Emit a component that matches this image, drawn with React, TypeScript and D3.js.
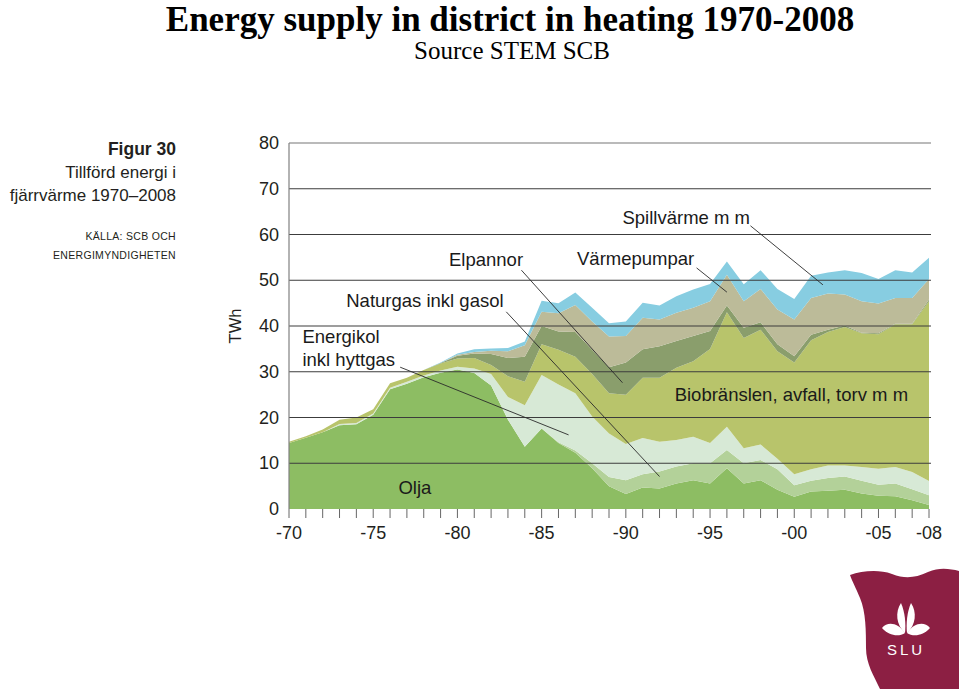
import React from "react";
import * as d3 from "d3";

// ---------- data (TWh), 1970–2008 ----------
const years = [
  1970, 1971, 1972, 1973, 1974, 1975, 1976, 1977, 1978, 1979,
  1980, 1981, 1982, 1983, 1984, 1985, 1986, 1987, 1988, 1989,
  1990, 1991, 1992, 1993, 1994, 1995, 1996, 1997, 1998, 1999,
  2000, 2001, 2002, 2003, 2004, 2005, 2006, 2007, 2008,
];

const olja = [
  14.4, 15.6, 16.8, 18.3, 18.5, 20.6, 26.2, 27.4, 28.8, 29.8,
  30.5, 29.7, 27.0, 19.5, 13.6, 17.6, 14.4, 12.3, 8.9, 5.0,
  3.3, 4.7, 4.5, 5.6, 6.3, 5.6, 8.9, 5.6, 6.3, 4.2,
  2.7, 3.8, 4.0, 4.2, 3.4, 2.9, 2.8, 1.9, 0.9,
];
const naturgas = [
  0, 0, 0, 0, 0, 0, 0, 0, 0, 0,
  0, 0, 0, 0, 0, 0, 0.2, 0.5, 1.1, 2.0,
  3.0, 2.9, 3.7, 3.7, 3.7, 4.4, 4.0, 4.4, 4.4, 4.5,
  2.5, 2.4, 2.8, 2.9, 2.8, 2.4, 2.8, 2.4, 2.1,
];
const energikol = [
  0, 0, 0, 0.3, 0.3, 0.3, 0.3, 0.4, 0.4, 0.5,
  0.6, 1.0, 2.5, 5.0, 9.1, 11.7, 12.6, 12.5, 10.2, 9.5,
  7.9, 7.9, 6.5, 5.8, 5.8, 4.4, 5.1, 3.3, 3.4, 2.3,
  2.4, 2.5, 2.7, 2.4, 3.0, 3.5, 3.6, 3.8, 3.1,
];
const biobranslen = [
  0.3, 0.3, 0.6, 0.9, 1.2, 0.9, 1.0, 0.9, 1.2, 1.5,
  1.8, 2.3, 2.0, 4.5, 5.1, 6.7, 7.6, 8.0, 9.3, 8.8,
  10.8, 13.2, 14.0, 15.8, 16.5, 20.6, 25.0, 24.1, 25.1, 23.5,
  24.4, 28.2, 29.2, 30.3, 29.2, 29.4, 31.2, 32.3, 39.3,
];
const elpannor = [
  0, 0, 0, 0, 0, 0, 0, 0, 0, 0.1,
  0.6, 1.0, 2.4, 4.0, 5.5, 4.0, 4.0, 5.4, 5.3, 5.7,
  7.0, 6.2, 6.9, 5.8, 5.5, 3.9, 1.5, 2.2, 1.6, 1.5,
  1.4, 1.2, 0.5, 0.3, 0.1, 0.2, 0.1, 0.1, 0.4,
];
const varmepumpar = [
  0, 0, 0, 0, 0, 0, 0, 0, 0, 0,
  0.2, 0.3, 0.7, 1.5, 2.5, 3.1, 4.0, 5.9, 6.2, 6.7,
  5.8, 6.9, 5.8, 6.2, 6.2, 6.5, 6.7, 5.8, 7.3, 7.6,
  8.0, 8.0, 7.9, 6.8, 6.9, 6.5, 5.6, 5.6, 4.5,
];
const spillvarme = [
  0, 0, 0, 0, 0, 0, 0, 0, 0, 0.1,
  0.3, 0.6, 0.5, 0.7, 0.8, 2.4, 2.2, 2.7, 3.0, 2.9,
  3.2, 3.3, 3.1, 3.6, 4.0, 3.8, 2.9, 3.7, 4.1, 4.5,
  4.5, 4.9, 4.6, 5.3, 6.2, 5.4, 6.1, 5.6, 4.6,
];

const seriesKeys = ["olja", "naturgas", "energikol", "bio", "elpannor", "varmepumpar", "spillvarme"];
const seriesColors = ["#8dbd63", "#b3d199", "#d7e9d6", "#b8c46b", "#8a9e6c", "#bcbb99", "#87cde1"];

const yTicks = [0, 10, 20, 30, 40, 50, 60, 70, 80];
const xTickYears = [1970, 1975, 1980, 1985, 1990, 1995, 2000, 2005, 2008];
const xTickLabels = ["-70", "-75", "-80", "-85", "-90", "-95", "-00", "-05", "-08"];

// annotation texts with anchor positions in data space (year, TWh)
const labels = [
  { text: "Spillvärme m m", year: 1989.8, value: 62.3 },
  { text: "Värmepumpar", year: 1987.1, value: 53.3 },
  { text: "Elpannor", year: 1979.5, value: 53.1 },
  { text: "Naturgas inkl gasol", year: 1973.4, value: 44.1 },
  { text: "Energikol", year: 1970.8, value: 36.3 },
  { text: "inkl hyttgas", year: 1970.8, value: 31.2 },
  { text: "Biobränslen, avfall, torv m m", year: 1992.9, value: 23.6 },
  { text: "Olja", year: 1976.5, value: 3.3 },
];
const leaders = [
  { y0: 1997.4, v0: 61.9, y1: 2001.7, v1: 49.0 },
  { y0: 1994.2, v0: 52.7, y1: 1996.0, v1: 47.4 },
  { y0: 1983.8, v0: 52.2, y1: 1989.8, v1: 27.6 },
  { y0: 1982.9, v0: 43.1, y1: 1992.0, v1: 7.1 },
  { y0: 1976.6, v0: 31.0, y1: 1986.6, v1: 16.2 },
];

const SANS = "'Liberation Sans', Arial, Helvetica, sans-serif";
const SERIF = "'Liberation Serif', 'Times New Roman', serif";

export default function App() {
  const x = d3.scaleLinear().domain([1970, 2008]).range([289, 929]);
  const y = d3.scaleLinear().domain([0, 80]).range([509, 143]);

  const table = years.map((yr, i) => ({
    year: yr,
    olja: olja[i],
    naturgas: naturgas[i],
    energikol: energikol[i],
    bio: biobranslen[i],
    elpannor: elpannor[i],
    varmepumpar: varmepumpar[i],
    spillvarme: spillvarme[i],
  }));
  const stacked = d3.stack<any>().keys(seriesKeys)(table);
  const area = d3
    .area<any>()
    .x((d) => x(d.data.year))
    .y0((d) => y(d[0]))
    .y1((d) => y(d[1]));

  return (
    <svg
      width={959}
      height={689}
      style={{ position: "absolute", left: 0, top: 0, background: "#fff" }}
    >
      {/* page title */}
      <text x={510} y={31} textAnchor="middle" fontFamily={SERIF} fontWeight="bold" fontSize={35} fill="#000">
        Energy supply in district in heating 1970-2008
      </text>
      <text x={512} y={59} textAnchor="middle" fontFamily={SERIF} fontSize={25} fill="#000">
        Source STEM SCB
      </text>

      {/* figure caption */}
      <g fontFamily={SANS} fill="#231f20" textAnchor="end">
        <text x={176} y={155} fontWeight="bold" fontSize={17.5}>Figur 30</text>
        <text x={176} y={178} fontSize={17}>Tillförd energi i</text>
        <text x={176} y={201} fontSize={17}>fjärrvärme 1970–2008</text>
        <text x={176} y={240} fontSize={10.5} letterSpacing={0.3}>KÄLLA: SCB OCH</text>
        <text x={176} y={259} fontSize={10.5} letterSpacing={0.3}>ENERGIMYNDIGHETEN</text>
      </g>

      {/* stacked areas */}
      {stacked.map((s, i) => (
        <path key={seriesKeys[i]} d={area(s) || ""} fill={seriesColors[i]} stroke="none" />
      ))}

      {/* gridlines */}
      {yTicks.slice(1).map((t) => (
        <line
          key={t}
          x1={x(1970)}
          x2={x(2008) + 2}
          y1={y(t)}
          y2={y(t)}
          stroke={t === 80 ? "#777" : "#3c3c3c"}
          strokeWidth={1.2}
        />
      ))}

      {/* y axis */}
      <line x1={x(1970)} x2={x(1970)} y1={y(80)} y2={y(0)} stroke="#808080" strokeWidth={1.2} />
      {yTicks.map((t) => (
        <text
          key={t}
          x={279}
          y={y(t) + 6}
          textAnchor="end"
          fontFamily={SANS}
          fontSize={18}
          fill="#231f20"
        >
          {String(t)}
        </text>
      ))}
      <text
        transform={`translate(241, ${y(40)}) rotate(-90)`}
        textAnchor="middle"
        fontFamily={SANS}
        fontSize={16.5}
        fill="#231f20"
      >
        TWh
      </text>

      {/* x axis ticks */}
      {years.map((yr) => (
        <line key={yr} x1={x(yr)} x2={x(yr)} y1={y(0)} y2={y(0) + 9} stroke="#666" strokeWidth={1} />
      ))}
      {xTickYears.map((yr, i) => (
        <text
          key={yr}
          x={x(yr)}
          y={539}
          textAnchor="middle"
          fontFamily={SANS}
          fontSize={18}
          fill="#231f20"
        >
          {xTickLabels[i]}
        </text>
      ))}

      {/* leader lines */}
      {leaders.map((l, i) => (
        <line
          key={i}
          x1={x(l.y0)}
          y1={y(l.v0)}
          x2={x(l.y1)}
          y2={y(l.v1)}
          stroke="#2a2a2a"
          strokeWidth={0.9}
        />
      ))}

      {/* annotation labels */}
      {labels.map((l) => (
        <text key={l.text} x={x(l.year)} y={y(l.value)} fontFamily={SANS} fontSize={18.5} fill="#1a1a1a">
          {l.text}
        </text>
      ))}

      {/* SLU logo */}
      <g>
        <path
          d="M850,575 C862,571 878,569 892,574 C905,579 915,578 928,572 C940,567 950,569 959,571 L959,689 L880,689 C874,676 866,664 866,648 C866,632 866,612 860,598 C856,588 852,581 850,575 Z"
          fill="#8c1f43"
        />
        <g fill="#fff">
          <path d="M905,633 C896,625 895,612 901,603 C905,612 906,624 905,633 Z" />
          <path d="M907,633 C916,625 917,612 911,603 C907,612 906,624 907,633 Z" />
          <path d="M905,633 C898,623 888,621 882,628 C889,636 899,637 905,633 Z" />
          <path d="M907,633 C914,623 924,621 930,628 C923,636 913,637 907,633 Z" />
        </g>
        <text x={906} y={655} textAnchor="middle" fontFamily={SANS} fontSize={15} letterSpacing={3} fill="#fff">
          SLU
        </text>
      </g>
    </svg>
  );
}
